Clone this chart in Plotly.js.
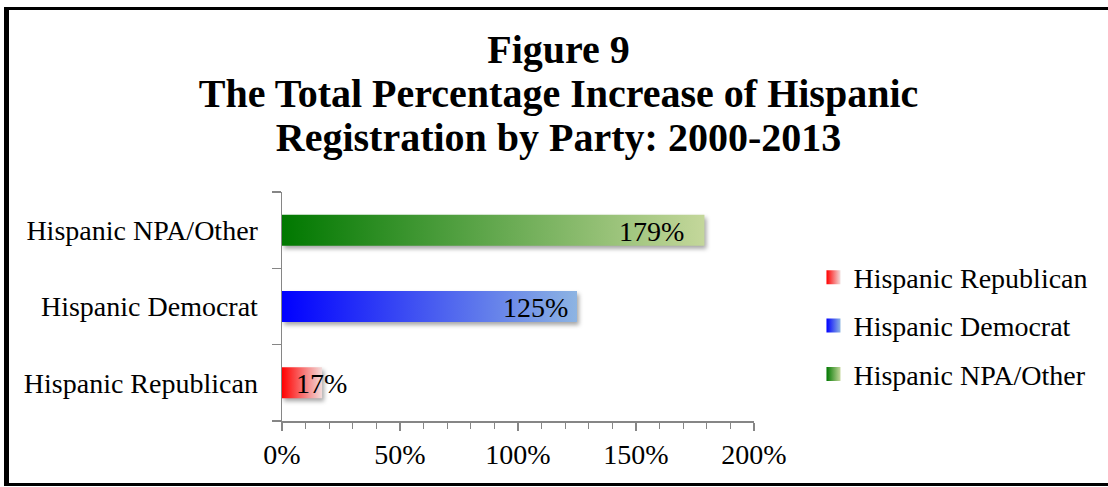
<!DOCTYPE html>
<html>
<head>
<meta charset="utf-8">
<script src="https://cdn.plot.ly/plotly-3.0.1.min.js"></script>
<style>
  html, body { margin: 0; padding: 0; background: #fff; overflow: hidden; }
  #frame {
    position: absolute; left: 4px; top: 7px;
    width: 1099px; height: 473px;
    border-top: 3px solid #000; border-left: 5px solid #000; border-bottom: 3px solid #000;
    border-right: none;
    background: #fff;
  }
  #chart { width: 1099px; height: 473px; }
</style>
</head>
<body>
<div id="frame"><div id="chart"></div></div>
<script>
// ---- data ----
const categories = ['Hispanic Republican', 'Hispanic Democrat', 'Hispanic NPA/Other'];
const values = [17, 125, 179];
const valueLabels = ['17%', '125%', '179%'];
const xTickVals = [0, 50, 100, 150, 200];
const xTickText = ['0%', '50%', '100%', '150%', '200%'];
const titleLines = ['Figure 9', 'The Total Percentage Increase of Hispanic', 'Registration by Party: 2000-2013'];

// ---- styles ----
const leftColors = ['#ff0000', '#0000ff', '#007800'];
const rightColors = ['#f2dcdb', '#8db4e2', '#c4d79b'];
const halfBar = 0.203;
const labelShift = [27, -7, -18];
const FONT = 'Liberation Serif, Times New Roman, serif';

const traces = [];
categories.forEach((cat, i) => {
  const v = values[i];
  traces.push({
    type: 'scatter', mode: 'lines',
    x: [0, v, v, 0, 0],
    y: [i - halfBar, i - halfBar, i + halfBar, i + halfBar, i - halfBar],
    fill: 'toself',
    fillgradient: { type: 'horizontal', colorscale: [[0, leftColors[i]], [1, rightColors[i]]] },
    line: { width: 0, color: 'rgba(0,0,0,0)' },
    showlegend: false, hoverinfo: 'skip', name: cat
  });
});
categories.forEach((cat, i) => {
  traces.push({
    type: 'scatter', mode: 'markers',
    x: [null], y: [null], name: cat, legendgroup: 'g' + i,
    marker: { symbol: 'square', size: 14, color: leftColors[i],
              gradient: { type: 'horizontal', color: rightColors[i] }, line: { width: 0 } },
    showlegend: true
  });
});

const annotations = categories.map((cat, i) => ({
  x: values[i], y: i, xref: 'x', yref: 'y',
  text: valueLabels[i], showarrow: false,
  xanchor: 'right', yanchor: 'middle', xshift: labelShift[i], yshift: -1,
  font: { family: FONT, size: 28, color: '#000' }
}));

const titleText = '<b>' + titleLines.map(t => '<span style="font-size:40px">' + t + '</span>').join('<br>') + '</b>';

const layout = {
  width: 1099, height: 473,
  paper_bgcolor: 'rgba(0,0,0,0)', plot_bgcolor: 'rgba(0,0,0,0)',
  margin: { l: 273, r: 354, t: 182, b: 62, pad: 0 },
  font: { family: FONT, size: 28, color: '#000' },
  title: {
    text: titleText,
    font: { family: FONT, size: 34, color: '#000' },
    x: 0.5, xref: 'container', xanchor: 'center',
    y: 0.888, yref: 'container', yanchor: 'top'
  },
  xaxis: {
    range: [0, 200], fixedrange: true,
    tickmode: 'array', tickvals: xTickVals, ticktext: xTickText,
    ticks: 'outside', ticklen: 8, tickwidth: 1.5, tickcolor: '#868686',
    showline: true, linecolor: '#868686', linewidth: 1.5,
    showgrid: false, zeroline: false,
    ticklabelstandoff: 0,
    minor: { tickmode: 'linear', tick0: 0, dtick: 10, ticks: 'outside', ticklen: 6, tickwidth: 1.2, tickcolor: '#868686', showgrid: false },
    tickfont: { family: FONT, size: 28, color: '#000' }
  },
  yaxis: {
    range: [-0.5, 2.5], fixedrange: true,
    tickmode: 'array', tickvals: [0, 1, 2], ticktext: categories,
    ticks: '', showline: true, linecolor: '#868686', linewidth: 1.5,
    showgrid: false, zeroline: false,
    ticklabelstandoff: 17,
    minor: { tickmode: 'linear', tick0: -0.5, dtick: 1, ticks: 'outside', ticklen: 9, tickwidth: 1.5, tickcolor: '#868686', showgrid: false },
    tickfont: { family: FONT, size: 28, color: '#000' }
  },
  showlegend: true,
  legend: {
    x: 1.126, xanchor: 'left', y: 0.415, yanchor: 'middle',
    traceorder: 'grouped', tracegroupgap: 9,
    font: { family: FONT, size: 28, color: '#000' },
    bgcolor: 'rgba(0,0,0,0)', borderwidth: 0
  },
  annotations: annotations
};

Plotly.newPlot('chart', traces, layout, { staticPlot: true, displayModeBar: false }).then(() => {
  document.querySelectorAll('#chart .scatterlayer path.js-fill').forEach(p => {
    p.style.filter = 'drop-shadow(2px 3px 2px rgba(0,0,0,0.35))';
  });
});
</script>
</body>
</html>
